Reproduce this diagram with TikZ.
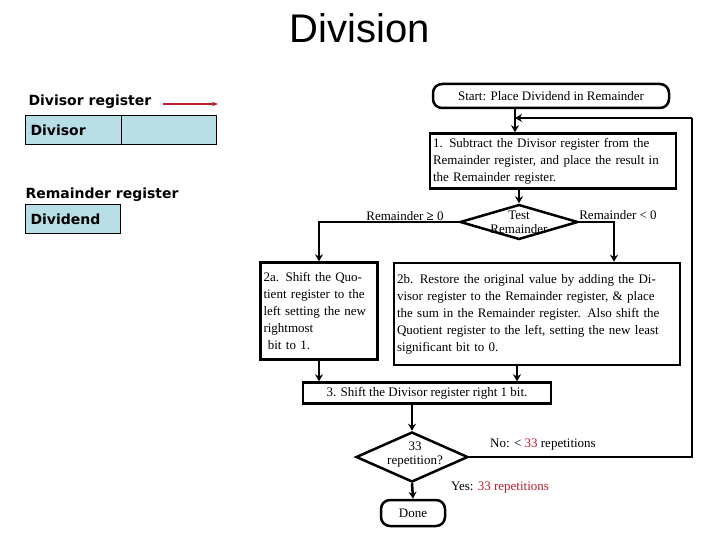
\documentclass[tikz,border=0pt]{standalone}
\usepackage{fontspec}
\setmainfont{Liberation Serif}
\setsansfont{Liberation Sans}
\newfontfamily\regfont{DejaVu Sans}
\usetikzlibrary{shapes.geometric, arrows.meta, positioning, calc}
\definecolor{regblue}{RGB}{183, 223, 229}
\definecolor{repred}{RGB}{190, 30, 45}
\tikzset{
  flowbox/.style={draw, line width=2.5pt, fill=white, align=left, inner sep=3pt, font=\fontsize{13}{17}\selectfont},
  termbox/.style={draw, line width=2.5pt, rounded corners=9pt, fill=white, font=\fontsize{13}{15}\selectfont},
  decision/.style={diamond, draw, line width=2.5pt, fill=white, minimum width=#1, minimum height=35pt, aspect=3.2, inner sep=0pt},
  regbox/.style={draw, fill=regblue, line width=0.8pt, minimum height=29pt, anchor=north west, inner sep=0pt},
  reglabel/.style={font=\regfont\bfseries\fontsize{14}{16}\selectfont, anchor=west},
  flowline/.style={line width=2.5pt, -{Stealth[length=7pt,width=8pt]}},
  plainline/.style={line width=2.5pt},
  edgelabel/.style={font=\fontsize{13}{15}\selectfont},
}
\begin{document}
\begin{tikzpicture}[x=1pt, y=-1pt]
\useasboundingbox (0,0) rectangle (720,540);
\node (title) at (360,28) {\sffamily\fontsize{40}{44}\selectfont Division};
% registers
\node[reglabel] (divlbl) at (25,102) {Divisor register};
\coordinate (arrs) at (163,104);
\coordinate (arre) at (218,104);
\draw[repred, line width=2pt, -{Stealth[length=6pt]}] (arrs) -- (arre);
\node[regbox, minimum width=96pt] (divL) at (25,115) {};
\node[regbox, minimum width=95pt] (divR) at (121,115) {};
\node[reglabel] at ($(divL.west)+(2,0)$) {Divisor};
\node[reglabel] (remlbl) at (22,195) {Remainder register};
\node[regbox, minimum width=95pt] (rem) at (25,204) {};
\node[reglabel] at ($(rem.west)+(2,0)$) {Dividend};
% flow chart
\node[termbox, minimum width=236pt, minimum height=24pt] (start) at (551,96) {Start: Place Dividend in Remainder};
\node[flowbox, text width=240pt, minimum height=55pt] (sub) at (553,161)
  {1. Subtract the Divisor register from the Remainder register, and place the result in the Remainder register.};
\node[decision=118pt] (test) at (519,222) {};
\node[edgelabel, align=center, font=\fontsize{13}{14}\selectfont] at (test) {Test\\Remainder};
\node[flowbox, text width=111pt, minimum height=97pt] (shiftq) at (319,311)
  {2a. Shift the Quotient register to the left setting the new rightmost\\ \ bit to 1.};
\node[flowbox, text width=280pt, minimum height=102pt] (restore) at (537,314)
  {2b. Restore the original value by adding the Divisor register to the Remainder register, \& place the sum in the Remainder register. Also shift the Quotient register to the left, setting the new least significant bit to 0.};
\node[flowbox, minimum width=248pt, minimum height=21pt, inner sep=1pt] (shiftd) at (427,393)
  {3. Shift the Divisor register right 1 bit.};
\node[decision=112pt, minimum height=50pt, aspect=2.2] (rep) at (412,457) {};
\node[edgelabel, align=center, font=\fontsize{13}{14}\selectfont] at (415,455) {33\\repetition?};
\node[termbox, minimum width=64pt, minimum height=26pt] (done) at (413,513) {Done};
% connectors
\coordinate (loop) at (692,118);
\draw[flowline] (start.south -| 515,0) -- (sub.north -| 515,0);
\draw[flowline] (sub.south -| test.north) -- (test.north);
\draw[flowline] (test.west) -| (shiftq.north);
\draw[flowline] (test.east) -| (restore.north -| 614,0);
\draw[flowline] (shiftq.south) -- (shiftd.north -| shiftq.south);
\draw[flowline] (restore.south -| 517,0) -- (shiftd.north -| 517,0);
\draw[flowline] (shiftd.south -| rep.north) -- (rep.north);
\draw[plainline] (rep.east) -| (loop);
\draw[flowline] (loop) -- (loop -| 515,0);
\draw[flowline] (rep.south) -- (done.north);
% labels
\node[edgelabel] at (405,216) {Remainder \textbf{≥} 0};
\node[edgelabel] at (618,215) {Remainder < 0};
\node[edgelabel] at (543,445) {No: < \textcolor{repred}{33} repetitions};
\node[edgelabel] at (500,488) {Yes: \textcolor{repred}{33 repetitions}};
\end{tikzpicture}
\end{document}
